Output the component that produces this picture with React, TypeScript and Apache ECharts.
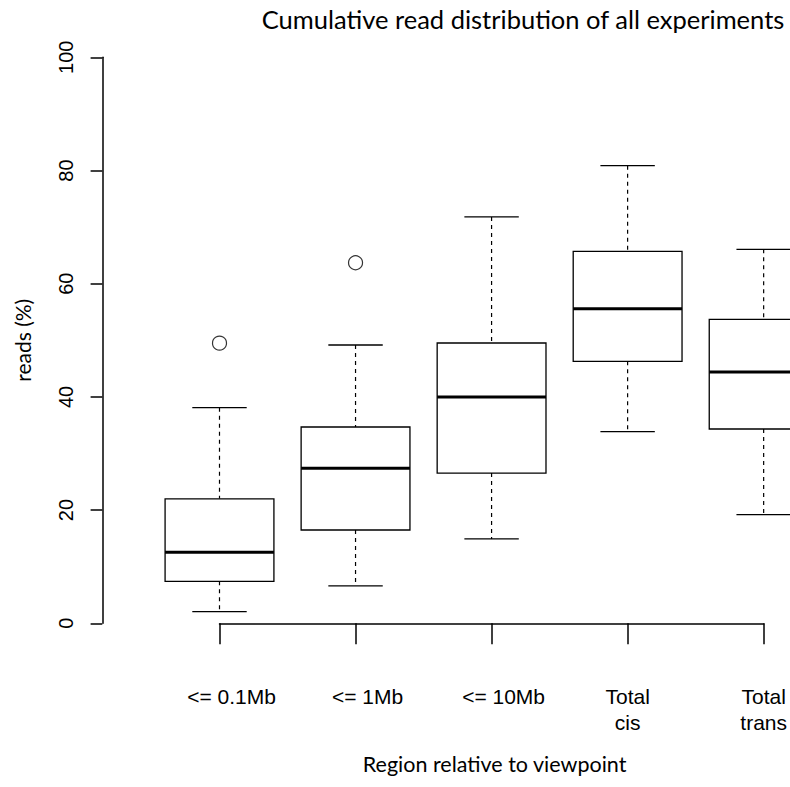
import React, { useEffect, useRef } from "react";
import * as echarts from "echarts";

const titleText = "Cumulative read distribution of all experiments";
const xAxisTitle = "Region relative to viewpoint";
const yAxisTitle = "reads (%)";

const categories = ["<= 0.1Mb", "<= 1Mb", "<= 10Mb", "Total\ncis", "Total\ntrans"];
const whiskerLow = [2.05, 6.6, 14.9, 33.85, 19.2];
const quartile1 = [7.42, 16.48, 26.55, 46.29, 34.33];
const medians = [12.54, 27.39, 39.98, 55.58, 44.4];
const quartile3 = [22.0, 34.68, 49.52, 65.72, 53.71];
const whiskerHigh = [38.09, 49.17, 71.8, 80.85, 66.08];
const outlierCategory = [0, 1];
const outlierValues = [49.5, 63.7];
const yMin = 0;
const yMax = 100;
const yInterval = 20;

const labelFont = "'Liberation Sans', Arial, sans-serif";
const titleFont = "Lato, 'Open Sans', sans-serif";

export default function App() {
  const ref = useRef<HTMLDivElement>(null);
  useEffect(() => {
    document.body.style.margin = "0";
    if (!ref.current) return;
    const chart = echarts.init(ref.current, null, { renderer: "svg" });
    const boxData = categories.map((_, i) => [
      i,
      whiskerLow[i],
      quartile1[i],
      medians[i],
      quartile3[i],
      whiskerHigh[i],
    ]);
    const outliers = outlierCategory.map((c, i) => [c, outlierValues[i]]);
    chart.setOption({
      animation: false,
      backgroundColor: "#fff",
      grid: { left: 219.5, right: 22.3, top: 57.3, bottom: 163.7, containLabel: false },
      graphic: [
        {
          type: "text",
          x: 523,
          y: 19,
          style: {
            text: titleText,
            fontSize: 25.5,
            fontFamily: titleFont,
            fill: "#000",
            textAlign: "center",
            textVerticalAlign: "middle",
          },
        },
      ],
      xAxis: {
        type: "category",
        data: categories,
        boundaryGap: false,
        offset: 23.4,
        axisLine: { show: true, lineStyle: { color: "#000", width: 1.5 } },
        axisTick: { show: true, length: 21, lineStyle: { color: "#000", width: 1.5 } },
        axisLabel: {
          color: "#000",
          fontSize: 21,
          fontFamily: labelFont,
          lineHeight: 26,
          margin: 37,
          interval: 0,
          formatter: (v: string) => (v.indexOf("\n") < 0 ? "{p|" + v + "}" : v),
          rich: {
            p: {
              color: "#000",
              fontSize: 21,
              fontFamily: labelFont,
              lineHeight: 26,
              padding: [0, 0, 0, 24],
            },
          },
        },
        splitLine: { show: false },
        name: xAxisTitle,
        nameLocation: "middle",
        nameGap: 106,
        nameTextStyle: {
          color: "#000",
          fontSize: 21.5,
          fontFamily: titleFont,
          padding: [0, 0, 0, 6],
        },
      },
      yAxis: {
        type: "value",
        min: yMin,
        max: yMax,
        interval: yInterval,
        offset: 117.2,
        axisLine: { show: true, lineStyle: { color: "#000", width: 1.5 } },
        axisTick: { show: true, length: 11.7, lineStyle: { color: "#000", width: 1.5 } },
        axisLabel: {
          color: "#000",
          fontSize: 20,
          fontFamily: labelFont,
          rotate: 90,
          margin: 26,
        },
        splitLine: { show: false },
        name: yAxisTitle,
        nameLocation: "middle",
        nameRotate: 90,
        nameGap: 69,
        nameTextStyle: { color: "#000", fontSize: 21, fontFamily: titleFont },
      },
      series: [
        {
          type: "custom",
          data: boxData,
          encode: { x: 0, y: [1, 2, 3, 4, 5] },
          renderItem: (params: any, api: any) => {
            const i = api.value(0);
            const lo = api.coord([i, api.value(1)]);
            const q1 = api.coord([i, api.value(2)]);
            const md = api.coord([i, api.value(3)]);
            const q3 = api.coord([i, api.value(4)]);
            const hi = api.coord([i, api.value(5)]);
            const band = api.size([1, 0])[0];
            const bw = band * 0.8;
            const cx = lo[0];
            const left = cx - bw / 2;
            const sl = cx - bw / 4;
            const sr = cx + bw / 4;
            const dashed = { stroke: "#000", lineWidth: 1.2, lineDash: [4, 4] };
            const solid = { stroke: "#000", lineWidth: 1.3 };
            return {
              type: "group",
              children: [
                { type: "line", shape: { x1: cx, y1: hi[1], x2: cx, y2: q3[1] }, style: dashed },
                { type: "line", shape: { x1: cx, y1: q1[1], x2: cx, y2: lo[1] }, style: dashed },
                { type: "line", shape: { x1: sl, y1: hi[1], x2: sr, y2: hi[1] }, style: solid },
                { type: "line", shape: { x1: sl, y1: lo[1], x2: sr, y2: lo[1] }, style: solid },
                {
                  type: "rect",
                  shape: { x: left, y: q3[1], width: bw, height: q1[1] - q3[1] },
                  style: { fill: "#fff", stroke: "#000", lineWidth: 1.3 },
                },
                {
                  type: "line",
                  shape: { x1: left, y1: md[1], x2: left + bw, y2: md[1] },
                  style: { stroke: "#000", lineWidth: 3 },
                },
              ],
            };
          },
        },
        {
          type: "scatter",
          data: outliers,
          symbol: "circle",
          symbolSize: 14,
          itemStyle: { color: "#fff", borderColor: "#000", borderWidth: 1.2 },
        },
      ],
    });
    return () => chart.dispose();
  }, []);
  return <div ref={ref} style={{ width: 790, height: 787 }} />;
}
